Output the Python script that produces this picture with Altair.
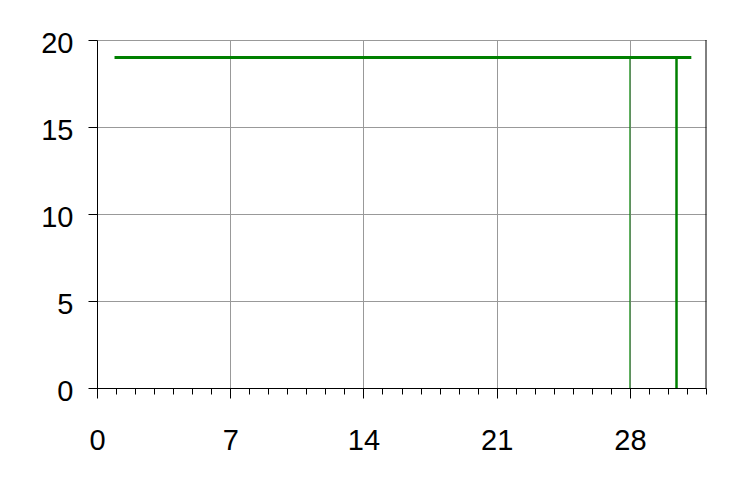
import altair as alt
import pandas as pd

# data
level_x = [1, 31.15]
level_y = [19, 19]
marker_thin_x = [28]
marker_thick_x = [30.45]
marker_top = 19
major_x_ticks = [0, 7, 14, 21, 28]
minor_x_ticks = list(range(0, 33))
y_ticks = [0, 5, 10, 15, 20]

FONT = "Liberation Sans"
GREEN = "#008000"

xs = alt.Scale(domain=[0, 32], nice=False, zero=False)
ys = alt.Scale(domain=[0, 20], nice=False)

level_df = pd.DataFrame({"x": level_x, "y": level_y})
thin_df = pd.DataFrame({"x": marker_thin_x, "y": [0] * len(marker_thin_x), "y2": [marker_top] * len(marker_thin_x)})
thick_df = pd.DataFrame({"x": marker_thick_x, "y": [0] * len(marker_thick_x), "y2": [marker_top] * len(marker_thick_x)})
border_df = pd.DataFrame({"x": [32], "y": [0], "y2": [20]})

x_main = alt.X("x:Q", scale=xs, title=None,
               axis=alt.Axis(values=major_x_ticks, grid=True, gridColor="#999999", gridWidth=1,
                             tickSize=10, tickColor="black", domainColor="black",
                             labelFont=FONT, labelFontSize=29, labelColor="black",
                             labelPadding=28, labelFlush=False, labelOverlap=False))
y_axis = alt.Axis(values=y_ticks, grid=True, gridColor="#999999", gridWidth=1,
                  tickSize=9, tickColor="black", domainColor="black",
                  labelFont=FONT, labelFontSize=29, labelColor="black",
                  labelPadding=15, labelOffset=3, labelFlush=False, labelOverlap=False)
y_main = alt.Y("y:Q", scale=ys, title=None, axis=y_axis)

level = alt.Chart(level_df).mark_line(color=GREEN, strokeWidth=3, strokeCap="square").encode(
    x=x_main, y=y_main)

minor = alt.Chart(pd.DataFrame({"x": minor_x_ticks})).mark_point(opacity=0).encode(
    x=alt.X("x:Q", scale=xs, title=None,
            axis=alt.Axis(values=minor_x_ticks, grid=False, labels=False, domain=False,
                          tickSize=6, tickColor="black", orient="bottom")),
    y=alt.value(0))

def vrule(df, color, width):
    return alt.Chart(df).mark_rule(color=color, strokeWidth=width).encode(
        x=alt.X("x:Q", scale=xs, axis=None),
        y=alt.Y("y:Q", scale=ys, title=None, axis=y_axis),
        y2="y2:Q")

thin = vrule(thin_df, GREEN, 1)
thick = vrule(thick_df, GREEN, 2.5)
border = vrule(border_df, "black", 1)

chart = alt.layer(level, minor, thin, thick, border).resolve_axis(x="independent").properties(
    width=609, height=348,
    autosize=alt.AutoSizeParams(type="none"),
    padding={"left": 89, "top": 32, "right": 25, "bottom": 93},
    background="white",
).configure_view(stroke=None)

chart.save("out.html", embed_options={"renderer": "svg", "actions": False})
